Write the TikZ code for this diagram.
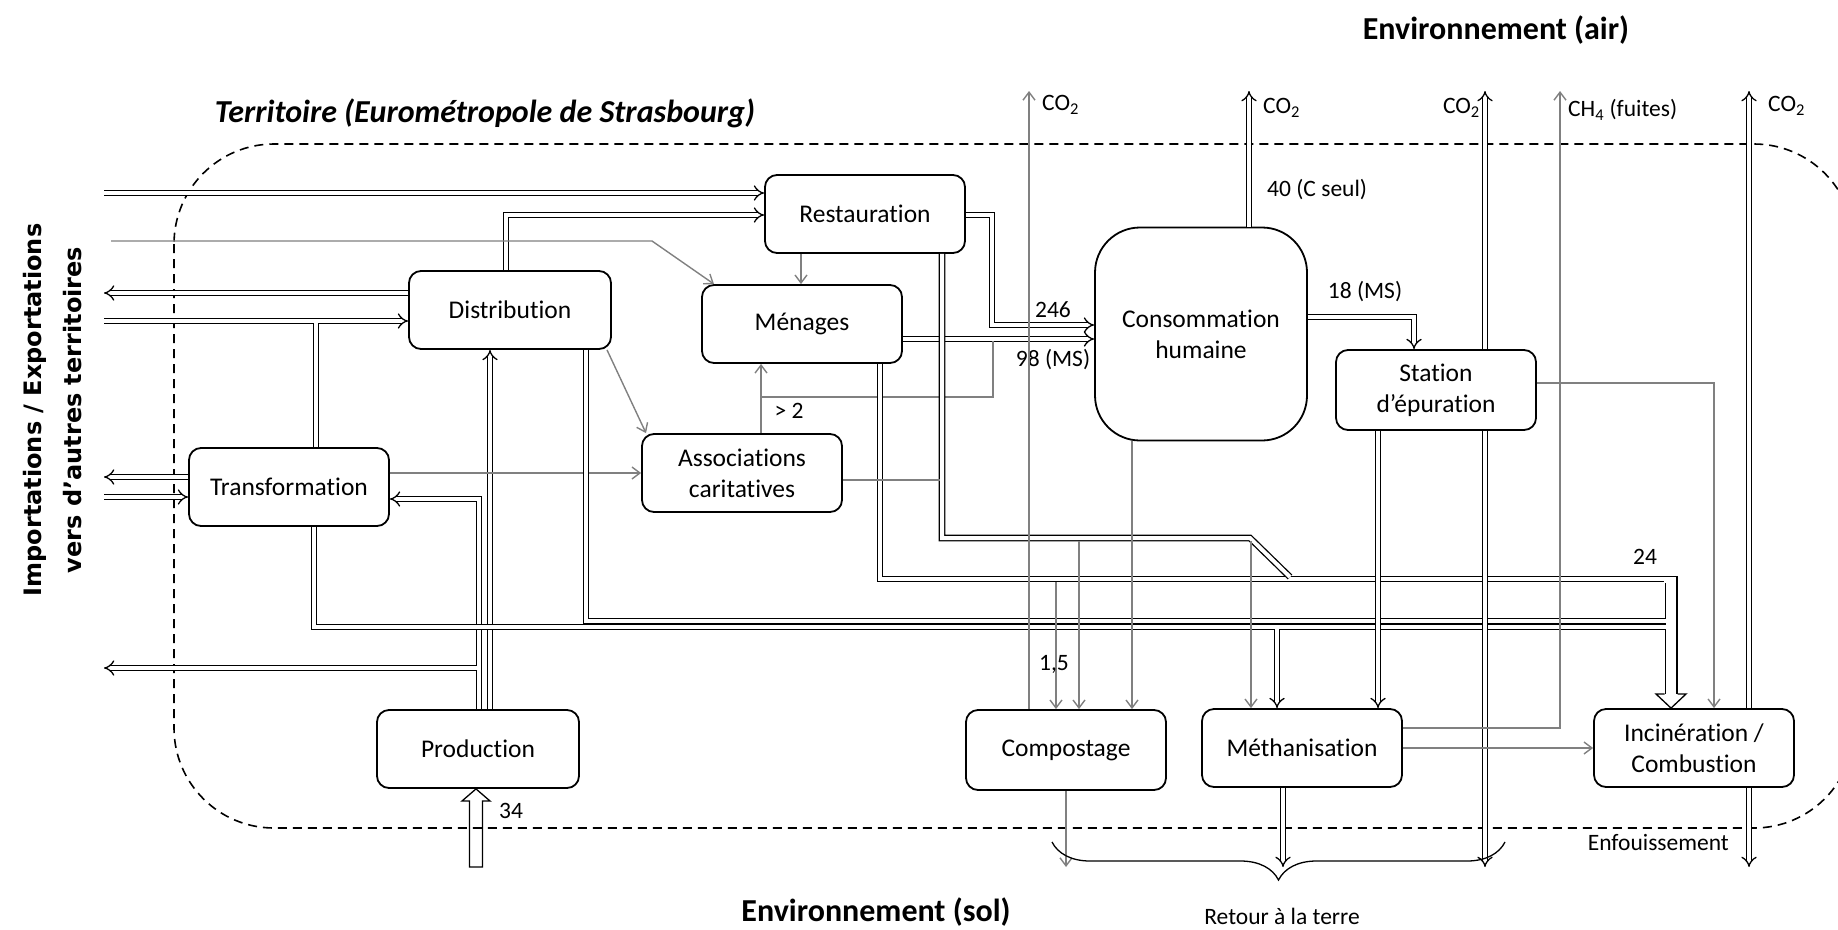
\documentclass[tikz,border=0pt]{standalone}
\usepackage{fontspec}
\setmainfont{Carlito}[Ligatures=NoCommon]
\newfontfamily\verdana{DejaVu Sans}
\usepackage{xcolor}
\usepackage{tikz}
\usetikzlibrary{arrows.meta, decorations.pathreplacing}
\definecolor{gristrait}{RGB}{128,128,128}

\begin{document}
\begin{tikzpicture}[x=1pt, y=-1pt,
    boite/.style={draw, line width=1.8pt, rounded corners=12pt, minimum width=200pt, minimum height=78pt, align=center, font=\fontsize{25.5}{31}\selectfont},
    flux/.style={double, double distance=4pt, line width=1.3pt, -{Implies}},
    gros/.style={double, double distance=10.4pt, line width=1.3pt},
    gris/.style={draw=gristrait, line width=1.4pt, -{Straight Barb[length=8pt, width=12pt]}},
    lbl/.style={inner sep=0pt, font=\fontsize{23.5}{28}\selectfont},
    titre/.style={font=\fontsize{32}{38}\selectfont\bfseries}]
    \useasboundingbox (0,0) rectangle (1838,929);

    \draw[dash pattern=on 9pt off 6pt, line width=1.6pt, rounded corners=100pt] (174,144) rectangle (1854,828);

    \node[boite] (restau) at (865,214) {Restauration};
    \node[boite] (menages) at (802,324) {Ménages};
    \node[boite, minimum width=202pt] (distrib) at (510,310) {Distribution};
    \node[boite] (transfo) at (289,487) {Transformation};
    \node[boite] (assoc) at (742,473) {Associations\\caritatives};
    \node[boite, rounded corners=45pt, minimum width=212pt, minimum height=213pt] (conso) at (1201,334) {Consommation\\humaine};
    \node[boite, minimum height=80pt] (station) at (1436,390) {Station\\d’épuration};
    \node[boite, minimum width=202pt] (prod) at (478,749) {Production};
    \node[boite, minimum height=80pt] (compost) at (1066,750) {Compostage};
    \node[boite] (metha) at (1302,748) {Méthanisation};
    \node[boite] (incin) at (1694,748) {Incinération /\\Combustion};

    \node[titre] (air) at (1496,30) {Environnement (air)};
    \node[titre] (sol) at (876,912) {Environnement (sol)};
    \node[titre, font=\fontsize{32}{38}\selectfont\bfseries\itshape] (terr) at (485,113) {Territoire (Eurométropole de Strasbourg)};
    \node[rotate=90, align=center, font=\verdana\bfseries\fontsize{24}{40}\selectfont] (ext) at (53,410) {Importations / Exportations\\vers d’autres territoires};

    \draw[flux] (104,193) -- (restau.west |- 0,193);
    \draw[flux] (distrib.north -| 506,0) |- (restau.west |- 0,215);
    \draw[gris] (111,241) -- (652,241) -- (menages.north -| 714,0);
    \draw[flux] (distrib.west |- 0,293) -- (104,293);
    \draw[flux] (104,321) -- (distrib.west |- 0,321);
    \draw[flux, -] (transfo.north -| 316,0) -- (316,323);
    \draw[flux] (transfo.west |- 0,477) -- (104,477);
    \draw[flux] (104,497) -- (transfo.west |- 0,497);

    \draw[flux] (prod.north -| 490,0) -- (distrib.south -| 490,0);
    \draw[flux] (prod.north -| 479,0) |- (transfo.east |- 0,499);
    \draw[flux] (477,668) -- (104,668);
    \draw[line width=1.3pt, line join=miter] (469.5,867) -- (469.5,801) -- (462,801) -- (prod.south -| 476,0) -- (490,801) -- (482.5,801) -- (482.5,867) -- cycle;
    \node[lbl] (n34) at (511,811) {34};

    \draw[gris] (restau.south -| 801,0) -- (menages.north -| 801,0);
    \draw[gris] (distrib.south -| 607,0) -- (assoc.north -| 646,0);
    \draw[gris] (transfo.east |- 0,473) -- (assoc.west |- 0,473);
    \draw[gris] (assoc.north -| 761,0) -- (menages.south -| 761,0);
    \node[lbl] (n2) at (789,411) {> 2};

    \draw[flux] (restau.east |- 0,215) -| (992,325) -- (conso.west |- 0,325);
    \draw[flux] (menages.east |- 0,339) -- (conso.west |- 0,339);
    \draw[gris, -] (761,397) -| (993,341);
    \node[lbl] (n246) at (1053,310) {246};
    \node[lbl] (n98) at (1053,360) {98 (MS)};

    \draw[flux, -] (menages.south -| 880,0) |- (1678.2,579);
    \draw[gros] (1671,577) -- (1671,694);
    \fill[white] (1664.3,577) rectangle (1676.2,582.5);
    \draw[line width=1.3pt, line join=miter] (1664.5,694) -- (1656,694) -- (incin.north -| 1671,0) -- (1686,694) -- (1677.5,694);
    \draw[flux, -] (restau.south -| 942,0) |- (1250,538) -- (1290,577);
    \draw[flux, -] (distrib.south -| 586,0) |- (1665.8,621);
    \draw[flux, -] (transfo.south -| 314,0) |- (1665.8,627);
    \draw[flux] (1277,629) -- (metha.north -| 1277,0);
    \draw[gris, -] (assoc.east |- 0,480) -- (940,480);
    \node[lbl] (n24) at (1645,557) {24};

    \draw[gris] (compost.north -| 1029,0) -- (1029,91);
    \node[lbl, anchor=west] (co2a) at (1042,105) {CO\textsubscript{2}};
    \draw[gris] (1056,582) -- (compost.north -| 1056,0);
    \draw[gris] (1079,541) -- (compost.north -| 1079,0);
    \draw[gris] (conso.south -| 1132,0) -- (compost.north -| 1132,0);
    \draw[gris] (1251,541) -- (metha.north -| 1251,0);
    \node[lbl] (n15) at (1054,664) {1,5};
    \draw[gris] (compost.south -| 1066,0) -- (1066,867);

    \draw[flux] (conso.north -| 1249,0) -- (1249,91);
    \node[lbl, anchor=west] (co2b) at (1263,108) {CO\textsubscript{2}};
    \node[lbl, anchor=west] (n40) at (1267,190) {40 (C seul)};
    \draw[flux] (conso.east |- 0,317) -| (station.north -| 1414,0);
    \node[lbl] (n18) at (1365,292) {18 (MS)};

    \draw[flux] (station.north -| 1485,0) -- (1485,91);
    \node[lbl, anchor=east] (co2c) at (1480,108) {CO\textsubscript{2}};
    \draw[flux] (station.south -| 1485,0) -- (1485,867);
    \draw[flux] (station.south -| 1378,0) -- (metha.north -| 1378,0);
    \draw[gris] (station.east |- 0,383) -| (incin.north -| 1714,0);

    \draw[gris] (metha.east |- 0,728) -| (1560,91);
    \node[lbl, anchor=west] (ch4) at (1568,110) {CH\textsubscript{4} (fuites)};
    \draw[gris] (metha.east |- 0,748) -- (incin.west |- 0,748);
    \draw[flux] (metha.south -| 1283,0) -- (1283,867);

    \draw[flux] (incin.north -| 1749,0) -- (1749,91);
    \node[lbl, anchor=west] (co2d) at (1768,106) {CO\textsubscript{2}};
    \draw[flux] (incin.south -| 1749,0) -- (1749,867);
    \node[lbl, anchor=east] (enf) at (1729,842) {Enfouissement};

    \draw[line width=1.3pt, decorate, decoration={brace, amplitude=38pt, mirror}] (1052,842) -- (1505,842);
    \node[lbl] (retour) at (1282,916) {Retour à la terre};
\end{tikzpicture}
\end{document}
